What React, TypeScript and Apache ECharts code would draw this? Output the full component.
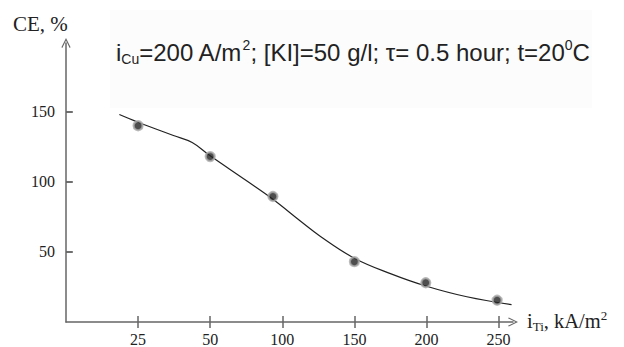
import React, { useEffect, useRef } from "react";
import * as echarts from "echarts";

const xTickPositions = [1, 2, 3, 4, 5, 6];
const xTickLabels = ["25", "50", "100", "150", "200", "250"];
const yTickValues = [50, 100, 150];
const markerX = [1.0, 2.0, 2.87, 4.0, 4.99, 5.98];
const markerCE = [140, 118, 89.5, 43, 28, 15.5];
const curveX = [0.74, 1.0, 1.49, 1.75, 2.0, 2.51, 2.87, 3.25, 3.53, 4.0, 4.5, 4.99, 5.56, 6.18];
const curveCE = [148, 142.5, 133, 128, 118.5, 100.5, 87.5, 72, 61, 45.5, 34.5, 25.7, 18, 12.4];

const chevron = "path://M0,10 L5,0 L10,10 L9,10.9 L5,2.6 L1,10.9 Z";

export default function App() {
  const ref = useRef<HTMLDivElement>(null);
  useEffect(() => {
    if (!ref.current) return;
    document.body.style.margin = "0";
    const chart = echarts.init(ref.current, null, { renderer: "svg" });
    const axisColor = "#666";
    const serif = "Liberation Serif";
    const sans = "Liberation Sans";
    const commonX = { type: "value", min: 0, max: 6.2, gridIndex: 0 };
    const commonY = { type: "value", min: 0, max: 199, gridIndex: 0 };
    chart.setOption({
      animation: false,
      backgroundColor: "#fff",
      grid: { left: 66, right: 111, top: 43, bottom: 23, containLabel: false },
      xAxis: [
        {
          ...commonX,
          position: "bottom",
          axisLine: {
            show: true,
            symbol: ["none", chevron],
            symbolSize: [11, 10],
            lineStyle: { color: axisColor, width: 1.5 },
          },
          axisTick: { show: true, inside: true, length: 6, customValues: xTickPositions, lineStyle: { color: axisColor, width: 1.5 } },
          axisLabel: {
            customValues: xTickPositions,
            formatter: (v: number) => xTickLabels[xTickPositions.indexOf(Math.round(v))] ?? "",
            fontFamily: serif,
            fontSize: 16,
            color: "#222",
            margin: 9,
          },
          splitLine: { show: false },
        },
        {
          ...commonX,
          position: "bottom",
          axisLine: { show: false },
          axisTick: { show: true, inside: false, length: 6, customValues: xTickPositions, lineStyle: { color: axisColor, width: 1.5 } },
          axisLabel: { show: false },
          splitLine: { show: false },
        },
      ],
      yAxis: [
        {
          ...commonY,
          axisLine: {
            show: true,
            symbol: ["none", chevron],
            symbolSize: [11, 10],
            lineStyle: { color: axisColor, width: 1.5 },
          },
          axisTick: { show: true, inside: true, length: 6, customValues: yTickValues, lineStyle: { color: axisColor, width: 1.5 } },
          axisLabel: {
            customValues: yTickValues,
            fontFamily: serif,
            fontSize: 16,
            color: "#222",
            margin: 11,
          },
          splitLine: { show: false },
        },
        {
          ...commonY,
          axisLine: { show: false },
          axisTick: { show: true, inside: false, length: 7, customValues: yTickValues, lineStyle: { color: axisColor, width: 1.5 } },
          axisLabel: { show: false },
          splitLine: { show: false },
        },
      ],
      graphic: [
        {
          type: "rect",
          z: -10,
          shape: { x: 110, y: 10, width: 482, height: 98 },
          style: { fill: "#fcfcfc" },
          silent: true,
        },
        {
          type: "text",
          x: 13,
          y: 24,
          style: {
            text: "CE, %",
            fontFamily: serif,
            fontSize: 21,
            fill: "#222",
            verticalAlign: "middle",
          },
        },
        {
          type: "text",
          x: 116,
          y: 52,
          style: {
            text: "{a|i}{sub|Cu}{a|=200 A/m}{sup|2}{a|; [KI]=50 g/l; τ= 0.5 hour; t=20}{sup|0}{a|C}",
            verticalAlign: "middle",
            rich: {
              a: { fontFamily: sans, fontSize: 24, fill: "#222", lineHeight: 28, verticalAlign: "middle" },
              sub: { fontFamily: sans, fontSize: 14, fill: "#222", lineHeight: 14, verticalAlign: "bottom" },
              sup: { fontFamily: sans, fontSize: 14, fill: "#222", lineHeight: 14, verticalAlign: "top" },
            },
          },
        },
        {
          type: "text",
          x: 527,
          y: 321,
          style: {
            text: "{a|i}{sub|Ti}{a|, kA/m}{sup|2}",
            verticalAlign: "middle",
            rich: {
              a: { fontFamily: serif, fontSize: 20.5, fill: "#222", lineHeight: 24, verticalAlign: "middle" },
              sub: { fontFamily: serif, fontSize: 13, fill: "#222", lineHeight: 14, verticalAlign: "bottom" },
              sup: { fontFamily: serif, fontSize: 13, fill: "#222", lineHeight: 14, verticalAlign: "top" },
            },
          },
        },
      ],
      series: [
        {
          type: "line",
          xAxisIndex: 0,
          yAxisIndex: 0,
          data: curveX.map((x, i) => [x, curveCE[i]]),
          smooth: 0.4,
          showSymbol: false,
          lineStyle: { color: "#222", width: 1.2 },
          z: 2,
        },
        {
          type: "scatter",
          xAxisIndex: 0,
          yAxisIndex: 0,
          data: markerX.map((x, i) => [x, markerCE[i]]),
          symbol: "circle",
          symbolSize: 9,
          itemStyle: { color: "#222", borderColor: "#aaa", borderWidth: 2.2 },
          z: 3,
        },
      ],
    });
    return () => chart.dispose();
  }, []);
  return <div ref={ref} style={{ width: 624, height: 347 }} />;
}
